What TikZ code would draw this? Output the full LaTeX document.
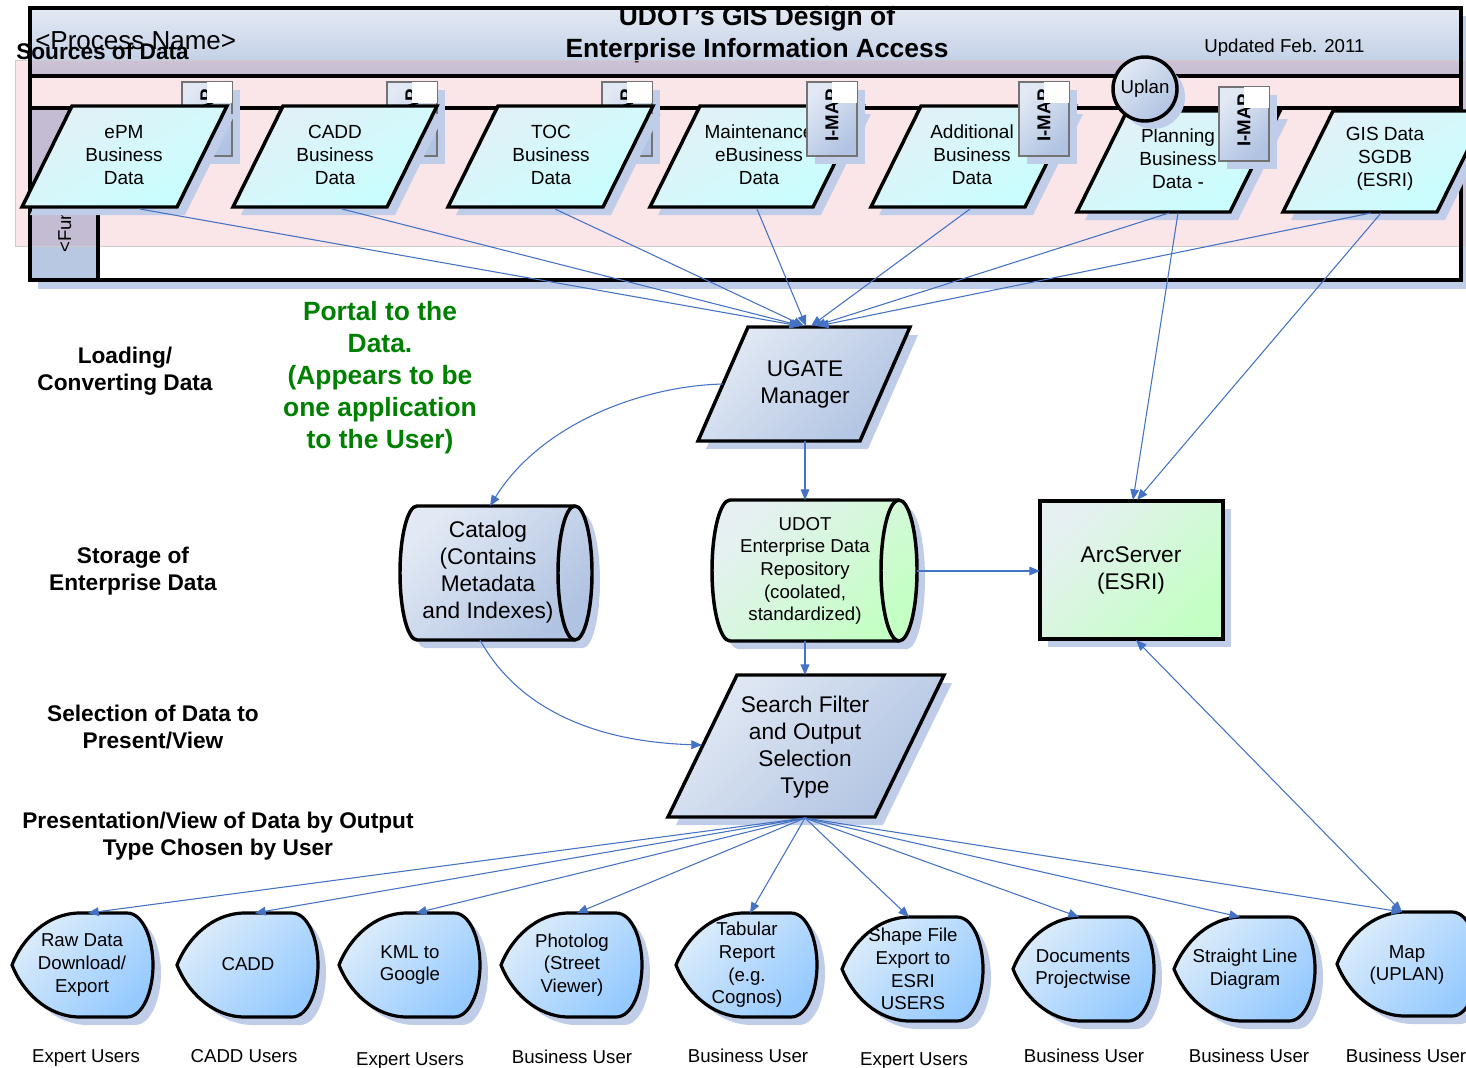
\documentclass[tikz,border=0pt]{standalone}
\usepackage{fontspec}
\setmainfont{Liberation Sans}
\usetikzlibrary{arrows.meta,shadows}
\definecolor{linec}{RGB}{68,114,196}
\definecolor{shadowc}{RGB}{192,205,233}
\definecolor{bgA}{RGB}{226,233,244}
\definecolor{bgB}{RGB}{176,195,226}
\definecolor{cyA}{RGB}{226,240,246}
\definecolor{cyB}{RGB}{200,255,255}
\definecolor{grA}{RGB}{230,240,242}
\definecolor{grB}{RGB}{196,255,196}
\definecolor{dpA}{RGB}{220,236,250}
\definecolor{dpB}{RGB}{150,202,255}
\definecolor{titA}{RGB}{228,234,244}
\definecolor{titB}{RGB}{186,201,226}
\definecolor{colc}{RGB}{184,200,226}
\definecolor{pinkc}{RGB}{238,150,160}
\definecolor{greentext}{RGB}{0,128,0}
\newcommand{\fsrc}{\fontsize{14.25pt}{17.25pt}\selectfont}
\newcommand{\fmain}{\fontsize{17pt}{20.25pt}\selectfont}
\newcommand{\fedr}{\fontsize{14pt}{17pt}\selectfont}
\newcommand{\fdisp}{\fontsize{14pt}{17pt}\selectfont}
\newcommand{\fsmall}{\fontsize{14pt}{17pt}\selectfont}
\newcommand{\flab}{\fontsize{17pt}{20.25pt}\selectfont\bfseries}
\newcommand{\fgreen}{\fontsize{19.8pt}{24pt}\selectfont\bfseries}
\newcommand{\ftitle}{\fontsize{19.8pt}{23pt}\selectfont\bfseries}
\newcommand{\fproc}{\fontsize{19.5pt}{23pt}\selectfont}
\newcommand{\fsources}{\fontsize{17pt}{20pt}\selectfont\bfseries}
\newcommand{\fimap}{\fontsize{14pt}{17pt}\selectfont\bfseries}
\tikzset{
  shp/.style={draw=black, line width=2.6pt, line join=miter},
  shd/.style={drop shadow={fill=shadowc, opacity=1, shadow xshift=6pt, shadow yshift=-6pt}},
  bluegray/.style={top color=bgA, bottom color=bgB, shading angle=45},
  cyanfill/.style={top color=cyA, bottom color=cyB, shading angle=30},
  greenfill/.style={top color=grA, bottom color=grB, shading angle=45},
  dispfill/.style={top color=dpA, bottom color=dpB, shading angle=45},
  conn/.style={draw=linec, line width=0.8pt, -{Triangle[length=8pt,width=6.5pt]}},
  lab/.style={font=\flab, align=center},
  usr/.style={font=\fsmall, anchor=base},
}
\newcommand{\imaptab}[3]{%
  \path[draw=black!55, line width=0.8pt, bluegray, shd] (#1,#2) rectangle ++(50,74);
  \node[font=\fimap, rotate=90, inner sep=0] (#3) at (#1+25,#2+33) {I-MAP};
  \fill[white] (#1+25,#2) rectangle ++(25,21);
}
\newcommand{\srcpar}[3]{%
  \path[shp, cyanfill, shd] (#1,#2) -- ++(#3,0) -- ++(-50,101) -- ++(-#3,0) -- cycle;
}
\newcommand{\dispshape}[2]{%
  \path[shp, line width=2.4pt, dispfill, shd] (#1,#2+52) .. controls (#1+10,#2+26) and (#1+35,#2) .. (#1+68,#2) -- (#1+115,#2) .. controls (#1+131,#2) and (#1+141,#2+26) .. (#1+141,#2+52) .. controls (#1+141,#2+78) and (#1+131,#2+104) .. (#1+115,#2+104) -- (#1+68,#2+104) .. controls (#1+35,#2+104) and (#1+10,#2+78) .. (#1,#2+52) -- cycle;
}
\begin{document}
\begin{tikzpicture}[x=0.75pt,y=-0.75pt]
\useasboundingbox (0,0) rectangle (1466,1067);
\fill[white] (0,0) rectangle (1466,1067);

% ---- swimlane frame ----
\fill[shadowc] (38,16) rectangle (1469,289);
\shade[top color=titA, bottom color=titB] (30,8) rectangle (1461,76);
\fill[white] (30,76) rectangle (1461,280);
\fill[colc] (30,108) rectangle (98,280);
\node[font=\ftitle, anchor=base, inner sep=0] (title1) at (757,26) {UDOT’s GIS Design of};
\node[font=\ftitle, anchor=base, inner sep=0] (title2) at (757,57) {Enterprise Information Access};
\node[font=\fproc, anchor=base west, inner sep=0] (procname) at (35,49) {<Process Name>};
\node[font=\fsources, anchor=base west, inner sep=0] (sources) at (16,59) {Sources of Data};
\node[font=\fsmall, anchor=base west, inner sep=0] (updated) at (1204,52) {Updated Feb. 2011};
\fill[pinkc, opacity=0.24] (15,60) rectangle (1466,246);
\draw[black!20, line width=0.6pt] (15,60) rectangle (1466,246);
\draw[line width=3pt] (30,8) rectangle (1461,280);
\draw[line width=3pt] (30,76) -- (1461,76);
\draw[line width=3pt] (30,108) -- (1461,108);
\draw[line width=3pt] (98,108) -- (98,280);
\node[font=\fsmall, rotate=90, anchor=base west, inner sep=0] (func) at (71,253) {<Function>};

% ---- sources ----
\imaptab{182}{82}{tab1}
\imaptab{387}{82}{tab2}
\imaptab{602}{82}{tab3}
\srcpar{72}{106}{155}
\srcpar{283}{106}{154}
\srcpar{498}{106}{155}
\srcpar{700}{106}{163}
\srcpar{921}{106}{154}
\srcpar{1127}{111}{153}
\srcpar{1333}{111}{154}
\node[font=\fsrc, align=center] (epm) at (124,155) {ePM\\Business\\Data};
\node[font=\fsrc, align=center] (cadd) at (335,155) {CADD\\Business\\Data};
\node[font=\fsrc, align=center] (toc) at (551,155) {TOC\\Business\\Data};
\node[font=\fsrc, align=center] (maint) at (759,155) {Maintenance\\eBusiness\\Data};
\node[font=\fsrc, align=center] (addl) at (972,155) {Additional\\Business\\Data};
\node[font=\fsrc, align=center] (plan) at (1178,159) {Planning\\Business\\Data -};
\node[font=\fsrc, align=center] (gis) at (1385,159) {GIS Data\\SGDB\\(ESRI)};
\imaptab{807}{82}{tab4}
\imaptab{1019}{82}{tab5}
\imaptab{1219}{87}{tab6}
\node[draw, circle, line width=2.6pt, minimum size=48pt, inner sep=0, bluegray, shd, font=\fsmall] (uplan) at (1145,89) {Uplan};

% ---- left labels ----
\node[lab] (lload) at (125,371) {Loading/\\Converting Data};
\node[lab] (lstore) at (133,571) {Storage of\\Enterprise Data};
\node[lab] (lsel) at (153,727) {Selection of Data to\\Present/View};
\node[lab] (lpres) at (218,836) {Presentation/View of Data by Output\\Type Chosen by User};
\node[font=\fgreen, text=greentext, align=center] (portal) at (380,378) {Portal to the\\Data.\\(Appears to be\\one application\\to the User)};

% ---- middle shapes ----
\path[shp, bluegray, shd] (748,327) -- (910,327) -- (860,441) -- (698,441) -- cycle;
\node[font=\fmain, align=center] (ugate) at (805,384) {UGATE\\Manager};

\path[shp, bluegray, shd] (417,506) -- (575,506) .. controls (584.4,506) and (592,536) .. (592,573) .. controls (592,610) and (584.4,640) .. (575,640) -- (417,640) .. controls (407.6,640) and (400,610) .. (400,573) .. controls (400,536) and (407.6,506) .. (417,506) -- cycle;
\draw[line width=2.6pt] (575,506) .. controls (565.6,506) and (558,536) .. (558,573) .. controls (558,610) and (565.6,640) .. (575,640);
\node[font=\fmain, align=center] (catalog) at (488,572) {Catalog\\(Contains\\Metadata\\and Indexes)};

\path[shp, greenfill, shd] (730,500) -- (899,500) .. controls (908.9,500) and (917,531.6) .. (917,570.5) .. controls (917,609.4) and (908.9,641) .. (899,641) -- (730,641) .. controls (720.1,641) and (712,609.4) .. (712,570.5) .. controls (712,531.6) and (720.1,500) .. (730,500) -- cycle;
\draw[line width=2.6pt] (899,500) .. controls (889.1,500) and (881,531.6) .. (881,570.5) .. controls (881,609.4) and (889.1,641) .. (899,641);
\node[font=\fedr, align=center] (edr) at (805,571) {UDOT\\Enterprise Data\\Repository\\(coolated,\\standardized)};

\path[shp, greenfill, shd] (1040,501) rectangle (1223,639);
\node[font=\fmain, align=center] (arcs) at (1131,570) {ArcServer\\(ESRI)};

\path[shp, bluegray, shd] (737,675) -- (944,675) -- (875,817) -- (668,817) -- cycle;
\node[font=\fmain, align=center] (search) at (805,747) {Search Filter\\and Output\\Selection\\Type};

% ---- display shapes ----
\dispshape{12}{913}
\dispshape{177}{913}
\dispshape{339}{913}
\dispshape{501}{913}
\dispshape{676}{913}
\dispshape{842}{917}
\dispshape{1013}{917}
\dispshape{1174}{917}
\dispshape{1337}{912}
\node[font=\fdisp, align=center] (raw) at (82,965) {Raw Data\\Download/\\Export};
\node[font=\fdisp, align=center] (dcadd) at (248,964) {CADD};
\node[font=\fdisp, align=center] (kml) at (410,965) {KML to\\Google};
\node[font=\fdisp, align=center] (photo) at (572,965) {Photolog\\(Street\\Viewer)};
\node[font=\fdisp, align=center] (tab) at (747,965) {Tabular\\Report\\(e.g.\\Cognos)};
\node[font=\fdisp, align=center] (shape) at (913,969) {Shape File\\Export to\\ESRI\\USERS};
\node[font=\fdisp, align=center] (docs) at (1083,969) {Documents\\Projectwise};
\node[font=\fdisp, align=center] (sld) at (1245,969) {Straight Line\\Diagram};
\node[font=\fdisp, align=center] (map) at (1407,965) {Map\\(UPLAN)};

\node[usr] (u1) at (86,1062) {Expert Users};
\node[usr] (u2) at (244,1062) {CADD Users};
\node[usr] (u3) at (410,1065) {Expert Users};
\node[usr] (u4) at (572,1063) {Business User};
\node[usr] (u5) at (748,1062) {Business User};
\node[usr] (u6) at (914,1065) {Expert Users};
\node[usr] (u7) at (1084,1062) {Business User};
\node[usr] (u8) at (1249,1062) {Business User};
\node[usr] (u9) at (1406,1062) {Business User};

% ---- connector end points ----
\coordinate (epmB) at (140,209);
\coordinate (caddB) at (342,209);
\coordinate (tocB) at (555,209);
\coordinate (maintB) at (757,209);
\coordinate (addlB) at (970,209);
\coordinate (planB) at (1169,213);
\coordinate (planB2) at (1178,213);
\coordinate (gisB) at (1371,213);
\coordinate (gisB2) at (1381,213);
\coordinate (ugT1) at (800,326);
\coordinate (ugT2) at (802,326);
\coordinate (ugT3) at (804,326);
\coordinate (ugT4) at (806,326);
\coordinate (ugT5) at (811,326);
\coordinate (ugT6) at (815,326);
\coordinate (ugT7) at (818,326);
\coordinate (ugL) at (723,384);
\coordinate (ugB) at (805,441);
\coordinate (catT) at (490,506);
\coordinate (catB) at (480,640);
\coordinate (edrT) at (805,500);
\coordinate (edrR) at (917,571);
\coordinate (edrB) at (805,641);
\coordinate (arcL) at (1040,571);
\coordinate (arcT1) at (1133,500);
\coordinate (arcT2) at (1137,500);
\coordinate (arcB) at (1136,640);
\coordinate (sfT) at (805,675);
\coordinate (sfL) at (702,745);
\coordinate (sfB) at (805,818);
\coordinate (d1) at (88,913);
\coordinate (d2) at (255,913);
\coordinate (d3) at (416,913);
\coordinate (d4) at (577,913);
\coordinate (d5) at (750,913);
\coordinate (d6) at (909,917);
\coordinate (d7) at (1079,917);
\coordinate (d8) at (1240,917);
\coordinate (d9) at (1402,912);

% ---- connectors ----
\draw[conn] (epmB) -- (ugT1);
\draw[conn] (caddB) -- (ugT2);
\draw[conn] (tocB) -- (ugT3);
\draw[conn] (maintB) -- (ugT4);
\draw[conn] (addlB) -- (ugT5);
\draw[conn] (planB) -- (ugT6);
\draw[conn] (gisB) -- (ugT7);
\draw[conn] (planB2) -- (arcT1);
\draw[conn] (gisB2) -- (arcT2);
\draw[conn] (ugL) .. controls (640,386) and (540,425) .. (catT);
\draw[conn] (ugB) -- (edrT);
\draw[conn] (edrR) -- (arcL);
\draw[conn, line width=1.5pt] (edrB) -- (sfT);
\draw[conn] (catB) .. controls (520,712) and (600,742) .. (sfL);
\draw[conn, {Triangle[length=8pt,width=6.5pt]}-{Triangle[length=8pt,width=6.5pt]}] (arcB) -- (d9);
\foreach \d in {d1,d2,d3,d4,d5,d6,d7,d8,d9} { \draw[conn] (sfB) -- (\d); }
\end{tikzpicture}
\end{document}
